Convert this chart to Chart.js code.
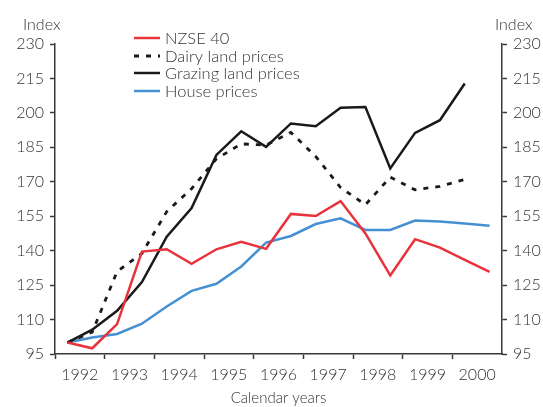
<!DOCTYPE html>
<html>
<head>
<meta charset="utf-8">
<script src="https://cdn.jsdelivr.net/npm/chart.js@4/dist/chart.umd.min.js"></script>
<style>
html,body{margin:0;padding:0;background:#fff;}
#wrap{position:relative;width:543px;height:407px;}
</style>
</head>
<body>
<div id="wrap"><canvas id="c" width="543" height="407"></canvas></div>
<script>
// Half-year periods (two points per calendar year)
const periods = ['1992 H1','1992 H2','1993 H1','1993 H2','1994 H1','1994 H2','1995 H1','1995 H2','1996 H1','1996 H2','1997 H1','1997 H2','1998 H1','1998 H2','1999 H1','1999 H2','2000 H1','2000 H2'];
const nzse40   = [100, 97.5, 108, 139.6, 140.6, 134.3, 140.6, 143.9, 140.8, 156, 155.1, 161.6, 147.5, 129.2, 145, 141.3, 136, 130.8];
const dairy    = [100, 104.5, 130.9, 138.8, 157, 167, 180, 186.5, 186, 191.5, 181, 167.5, 160, 172, 166.5, 168, 171, null];
const grazing  = [100, 105.6, 113.8, 126.3, 146.1, 158.6, 181.7, 192, 185.2, 195.4, 194.2, 202.2, 202.6, 175.8, 191.3, 196.8, 212.8, null];
const house    = [100, 102.2, 103.7, 108.2, 115.7, 122.5, 125.6, 133.1, 143.5, 146.4, 151.6, 154.1, 149, 149, 153.1, 152.7, 151.8, 150.8];
const seriesNames = ['NZSE 40','Dairy land prices','Grazing land prices','House prices'];
const yMin = 95, yMax = 230, yStep = 15;

const FONT = 'Lato, "Open Sans", sans-serif';
const W = 300;
const TXT = '#333333';
const AX = '#3a3a3a';

const overlay = {
  id: 'overlay',
  afterDraw(chart) {
    const ctx = chart.ctx;
    ctx.save();
    ctx.fillStyle = TXT;
    ctx.font = W + ' 16px ' + FONT;
    ctx.textBaseline = 'middle';
    ctx.textAlign = 'left';
    ctx.fillText('Index', 23, 25);
    ctx.fillText('Index', 495, 25);
    // legend
    const rows = [38, 56, 73, 91];
    chart.data.datasets.forEach((ds, i) => {
      const y = rows[i];
      ctx.beginPath();
      ctx.strokeStyle = ds.borderColor;
      ctx.lineWidth = ds.borderWidth;
      ctx.setLineDash(ds.borderDash || []);
      ctx.moveTo(134, y); ctx.lineTo(160, y);
      ctx.stroke();
      ctx.setLineDash([]);
      ctx.fillStyle = TXT;
      ctx.font = W + ' 16.5px ' + FONT;
      ctx.fillText(ds.label, 165, y + 1);
    });
    ctx.restore();
  }
};

new Chart(document.getElementById('c'), {
  type: 'line',
  data: {
    labels: periods,
    datasets: [
      {label: seriesNames[0], data: nzse40, borderColor: '#e8333c', borderWidth: 2.5},
      {label: seriesNames[1], data: dairy, borderColor: '#1a1a1a', borderWidth: 2.8, borderDash: [5, 7]},
      {label: seriesNames[2], data: grazing, borderColor: '#1a1a1a', borderWidth: 2.5},
      {label: seriesNames[3], data: house, borderColor: '#4590d3', borderWidth: 2.5}
    ]
  },
  options: {
    responsive: false,
    animation: false,
    devicePixelRatio: 1,
    elements: { point: { radius: 0 }, line: { tension: 0, borderCapStyle: 'butt' } },
    layout: { padding: { top: 44, left: 0, right: 0, bottom: 0 } },
    plugins: { legend: { display: false }, tooltip: { enabled: false } },
    scales: {
      x: {
        type: 'category',
        offset: true,
        grid: {
          offset: true,
          drawOnChartArea: false,
          drawTicks: true,
          tickLength: 5,
          tickWidth: 1.5,
          tickColor: (c) => (c.index % 2 === 0 ? AX : 'rgba(0,0,0,0)')
        },
        border: { display: true, color: AX, width: 1.5 },
        ticks: {
          autoSkip: false,
          maxRotation: 0,
          minRotation: 0,
          labelOffset: 12.4,
          padding: 6,
          color: TXT,
          font: { family: FONT, size: 16, weight: W },
          callback: function (v, i) { return i % 2 === 0 ? this.getLabelForValue(v).slice(0, 4) : ''; }
        },
        title: {
          display: true,
          text: 'Calendar years',
          color: TXT,
          font: { family: FONT, size: 15, weight: W },
          padding: { top: 14, bottom: 0 }
        },
        afterFit: (s) => { s.height = 53; }
      },
      y: {
        position: 'left',
        min: yMin, max: yMax,
        ticks: { stepSize: yStep, color: TXT, font: { family: FONT, size: 16, weight: W }, padding: 6 },
        grid: { drawOnChartArea: false, drawTicks: true, tickLength: 5, tickWidth: 1.5, tickColor: AX },
        border: { display: true, color: AX, width: 1.5 },
        afterFit: (s) => { s.width = 55; }
      },
      y2: {
        position: 'right',
        min: yMin, max: yMax,
        ticks: { stepSize: yStep, color: TXT, font: { family: FONT, size: 16, weight: W }, padding: 6 },
        grid: { drawOnChartArea: false, drawTicks: true, tickLength: 5, tickWidth: 1.5, tickColor: AX },
        border: { display: true, color: AX, width: 1.5 },
        afterFit: (s) => { s.width = 41; }
      }
    }
  },
  plugins: [overlay]
});
</script>
</body>
</html>
